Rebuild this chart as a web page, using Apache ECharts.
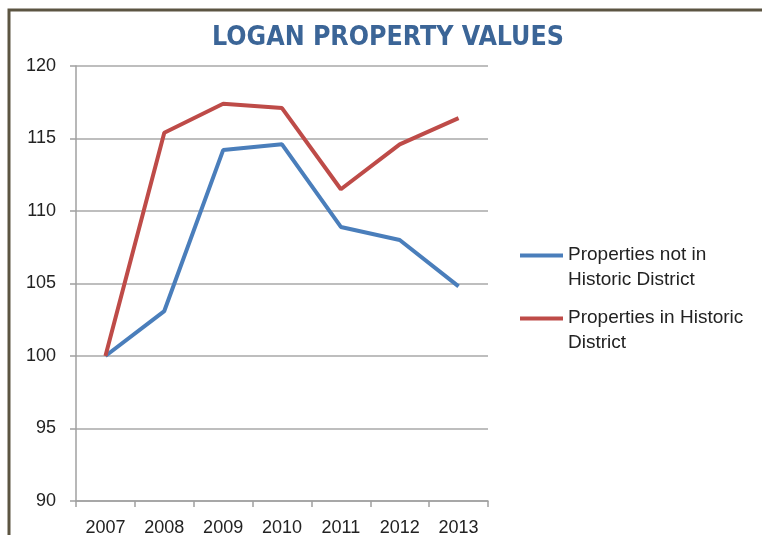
<!DOCTYPE html>
<html>
<head>
<meta charset="utf-8">
<script src="https://cdn.jsdelivr.net/npm/echarts@6/dist/echarts.min.js"></script>
<style>
html,body{margin:0;padding:0;background:#fff;}
#chart{width:762px;height:535px;}
</style>
</head>
<body>
<div id="chart"></div>
<script>
var titleText = 'LOGAN PROPERTY VALUES';
var years = ['2007', '2008', '2009', '2010', '2011', '2012', '2013'];
var seriesNames = ['Properties not in\nHistoric District', 'Properties in Historic\nDistrict'];
var notHistoric = [100, 103.1, 114.2, 114.6, 108.9, 108.0, 104.8];
var inHistoric = [100, 115.4, 117.4, 117.1, 111.5, 114.6, 116.4];
var yMin = 90, yMax = 120, yStep = 5;

var colors = ['#4a7ebb', '#be4b48'];
var labelFont = 'Liberation Sans';

var chart = echarts.init(document.getElementById('chart'), null, {renderer: 'canvas'});
chart.setOption({
  animation: false,
  backgroundColor: '#ffffff',
  graphic: [{
    type: 'polyline',
    shape: {points: [[9, 540], [9, 10], [770, 10]]},
    style: {stroke: '#5c5542', lineWidth: 3, fill: null},
    silent: true
  }],
  title: {
    text: titleText,
    left: 383,
    textAlign: 'center',
    top: 20,
    textStyle: {
      fontFamily: '"DejaVu Sans Condensed", "Liberation Sans", sans-serif',
      fontWeight: 'bold',
      fontSize: 26.5,
      color: '#3b6597'
    }
  },
  legend: {
    orient: 'vertical',
    left: 515,
    top: 237,
    itemWidth: 43,
    itemHeight: 28,
    itemGap: 13,
    icon: 'path://M0,0L43,0L43,4L0,4Z M0,27L0.01,27L0,27.01Z',
    itemStyle: {borderWidth: 0},
    textStyle: {
      fontFamily: labelFont,
      fontSize: 19,
      lineHeight: 25,
      color: '#222222'
    },
    data: seriesNames
  },
  grid: {
    left: 76,
    right: 274,
    top: 66,
    bottom: 34,
    containLabel: false,
    outerBoundsMode: 'none'
  },
  xAxis: {
    type: 'category',
    data: years,
    boundaryGap: true,
    axisLine: {show: true, lineStyle: {color: '#a0a0a0', width: 1.5}},
    axisTick: {show: true, length: 6, lineStyle: {color: '#a0a0a0', width: 1.5}},
    axisLabel: {margin: 18, fontFamily: labelFont, fontSize: 18, color: '#222222'},
    splitLine: {show: false}
  },
  yAxis: {
    type: 'value',
    min: yMin,
    max: yMax,
    interval: yStep,
    axisLine: {show: true, lineStyle: {color: '#a0a0a0', width: 1.5}},
    axisTick: {show: true, length: 6, lineStyle: {color: '#a0a0a0', width: 1.5}},
    axisLabel: {margin: 20, fontFamily: labelFont, fontSize: 18, color: '#222222'},
    splitLine: {show: true, lineStyle: {color: '#a8a8a8', width: 1.5}}
  },
  series: [{
    name: seriesNames[0],
    type: 'line',
    data: notHistoric,
    symbol: 'none',
    lineStyle: {color: colors[0], width: 4},
    itemStyle: {color: colors[0]}
  }, {
    name: seriesNames[1],
    type: 'line',
    data: inHistoric,
    symbol: 'none',
    lineStyle: {color: colors[1], width: 4},
    itemStyle: {color: colors[1]}
  }]
});
</script>
</body>
</html>
